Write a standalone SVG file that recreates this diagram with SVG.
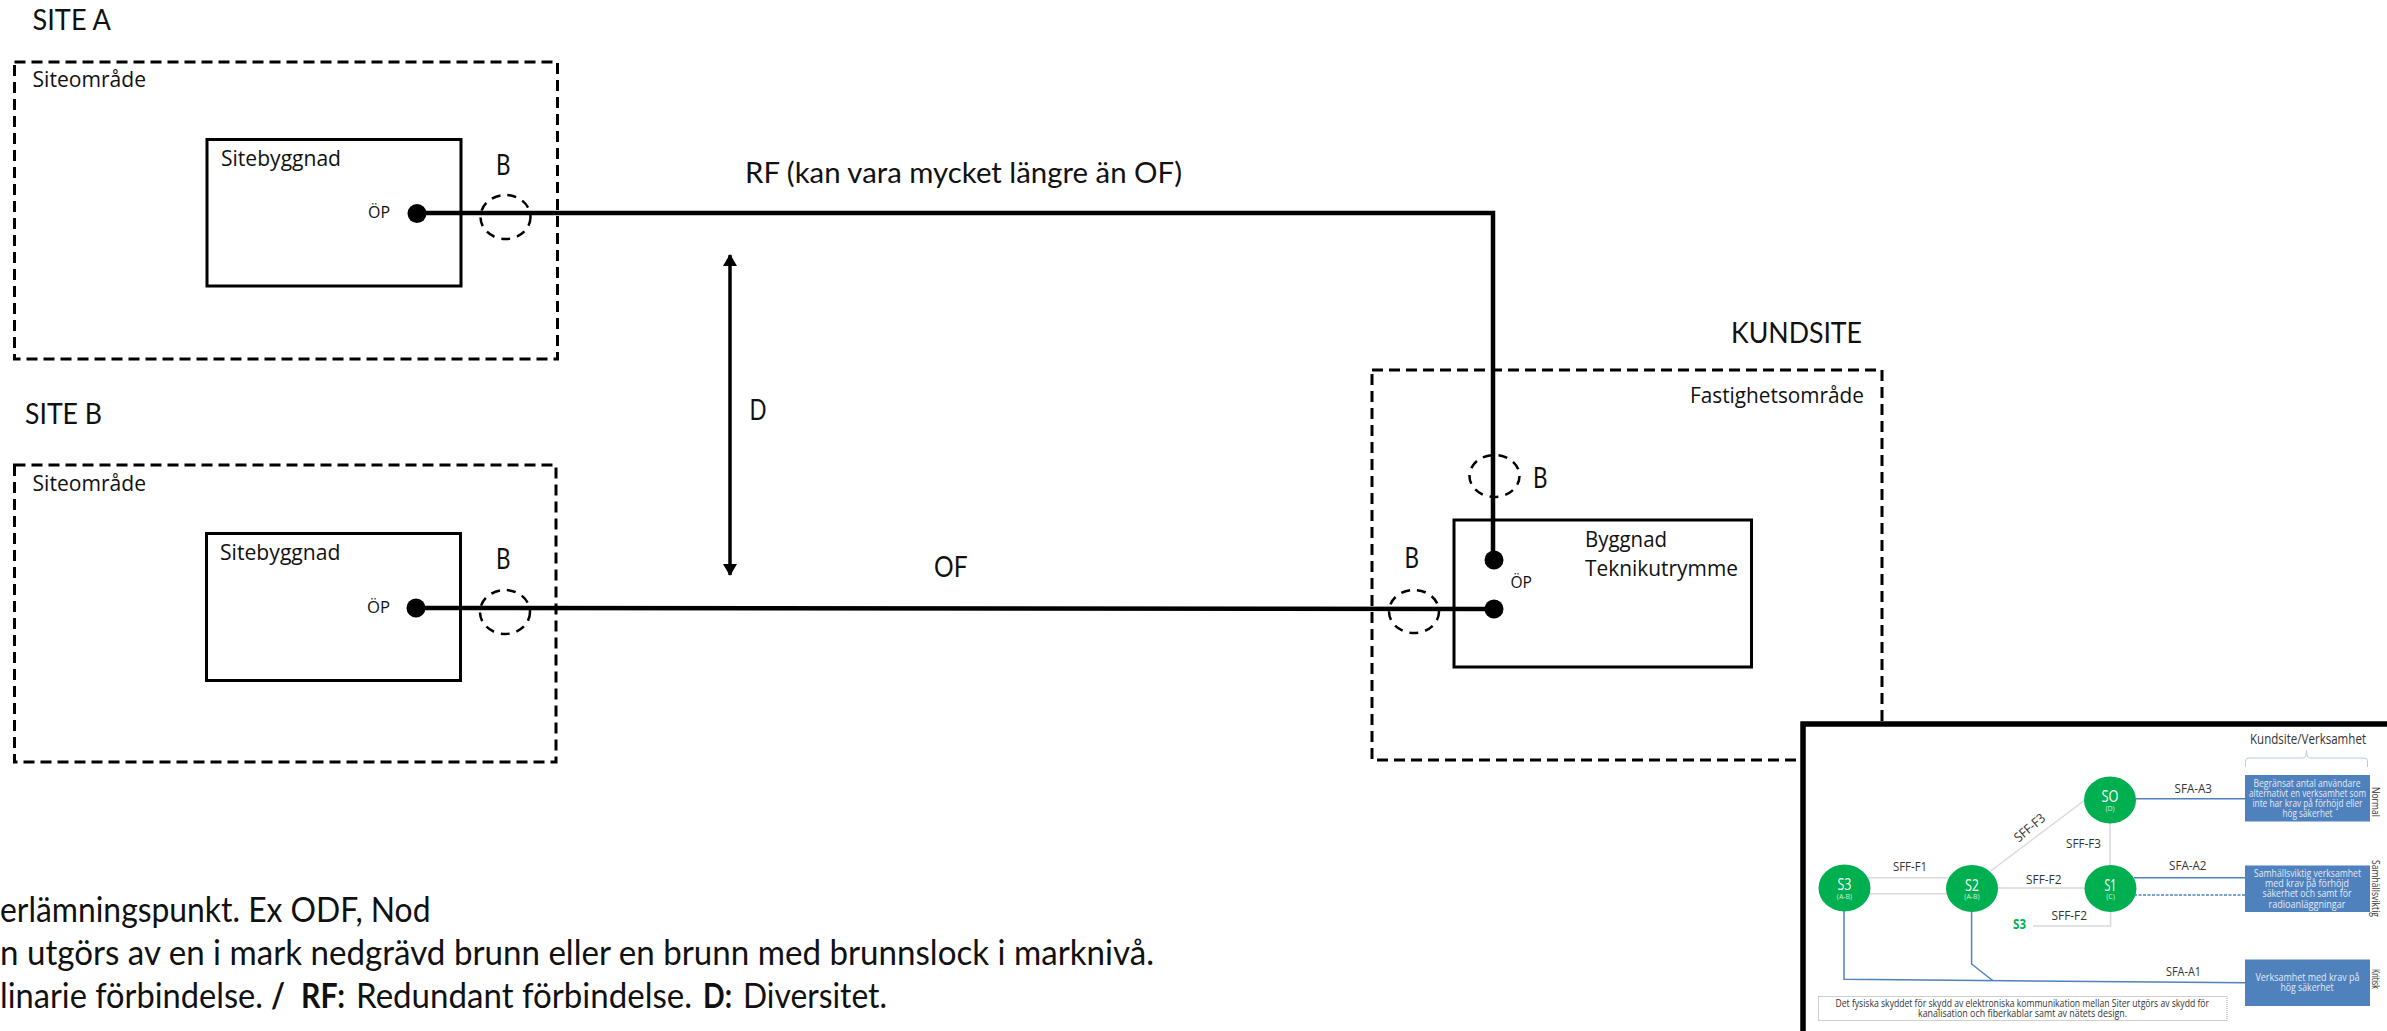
<svg xmlns="http://www.w3.org/2000/svg" width="2387" height="1031" viewBox="0 0 2387 1031">
<style>
text{font-family:"Lato","Open Sans","Liberation Sans",sans-serif;fill:#111;}
.lab{font-size:29px}
.ar{font-family:"Open Sans","Noto Sans",sans-serif;font-size:21.5px}
.op{font-family:"Open Sans","Noto Sans",sans-serif;font-size:17px}
.note{font-size:34px}
.area{fill:none;stroke:#000;stroke-width:3;stroke-dasharray:11 6}
.bld{fill:none;stroke:#000;stroke-width:3}
.well{fill:none;stroke:#000;stroke-width:2.5;stroke-dasharray:9 7}
.dot{fill:#000}
.wire{fill:none;stroke:#000;stroke-width:4.5}
.g{fill:none;stroke:#d9d9d9;stroke-width:1.5}
.b{fill:none;stroke:#4f81bd;stroke-width:1.5}
.node{fill:#00b050}
.nt{fill:#fff;font-size:16px;font-family:"Open Sans",sans-serif}
.ns{fill:#cfeedd;font-size:7px;font-family:"Open Sans",sans-serif}
.box{fill:#4f81bd}
.bt{fill:#e3ebf5;font-size:10px;font-family:"Open Sans",sans-serif}
.sl{fill:#333;font-size:13px;font-family:"Open Sans",sans-serif}
.sd{fill:#333;font-size:10px;font-family:"Open Sans",sans-serif}
</style>
<defs>
<marker id="ah" viewBox="0 0 12 14" refX="11" refY="7" markerWidth="12" markerHeight="14" markerUnits="userSpaceOnUse" orient="auto-start-reverse"><path d="M0 0L12 7L0 14Z" fill="#000"/></marker>
</defs>
<rect width="2387" height="1031" fill="#fff"/>

<g id="site-a">
<text class="lab" x="32.5" y="30" textLength="78.5" lengthAdjust="spacingAndGlyphs">SITE A</text>
<rect class="area" x="14.5" y="62" width="543" height="297"/>
<text class="ar" x="32.5" y="87" textLength="113.5" lengthAdjust="spacingAndGlyphs">Siteområde</text>
<rect class="bld" x="207" y="139.5" width="254" height="146.5"/>
<text class="ar" x="221" y="166" textLength="120" lengthAdjust="spacingAndGlyphs">Sitebyggnad</text>
<text class="op" x="368" y="218" textLength="22" lengthAdjust="spacingAndGlyphs">ÖP</text>
<ellipse class="well" cx="505.5" cy="217" rx="25" ry="22"/>
<text class="lab" x="496" y="175" textLength="14.5" lengthAdjust="spacingAndGlyphs">B</text>
</g>

<g id="site-b">
<text class="lab" x="25" y="424" textLength="77" lengthAdjust="spacingAndGlyphs">SITE B</text>
<rect class="area" x="14.5" y="465" width="541.5" height="297"/>
<text class="ar" x="32.5" y="490.5" textLength="113.5" lengthAdjust="spacingAndGlyphs">Siteområde</text>
<rect class="bld" x="206.5" y="533.5" width="254" height="147"/>
<text class="ar" x="220" y="560" textLength="120.5" lengthAdjust="spacingAndGlyphs">Sitebyggnad</text>
<text class="op" x="367" y="612.5" textLength="23" lengthAdjust="spacingAndGlyphs">ÖP</text>
<ellipse class="well" cx="505" cy="612" rx="25" ry="22"/>
<text class="lab" x="496" y="569" textLength="14.5" lengthAdjust="spacingAndGlyphs">B</text>
</g>

<g id="kundsite">
<text class="lab" x="1731" y="343" textLength="131" lengthAdjust="spacingAndGlyphs">KUNDSITE</text>
<rect class="area" x="1372" y="370" width="510" height="390"/>
<text class="ar" x="1690" y="403" textLength="174" lengthAdjust="spacingAndGlyphs">Fastighetsområde</text>
<rect class="bld" x="1454" y="520" width="297.5" height="147"/>
<text class="ar" x="1585" y="547" textLength="82" lengthAdjust="spacingAndGlyphs">Byggnad</text>
<text class="ar" x="1585" y="576" textLength="153" lengthAdjust="spacingAndGlyphs">Teknikutrymme</text>
<text class="op" x="1510.5" y="588" textLength="21.5" lengthAdjust="spacingAndGlyphs">ÖP</text>
<ellipse class="well" cx="1494.5" cy="476" rx="25" ry="21"/>
<text class="lab" x="1533" y="488" textLength="14.5" lengthAdjust="spacingAndGlyphs">B</text>
<ellipse class="well" cx="1414" cy="611.5" rx="25" ry="21.5"/>
<text class="lab" x="1404.5" y="568" textLength="14.5" lengthAdjust="spacingAndGlyphs">B</text>
</g>

<g id="connectors">
<path class="wire" d="M417 213H1493V560"/>
<path class="wire" d="M416 608L1494 609"/>
<circle class="dot" cx="417" cy="213.5" r="9.5"/>
<circle class="dot" cx="416" cy="608" r="9.5"/>
<circle class="dot" cx="1494" cy="560" r="9.5"/>
<circle class="dot" cx="1494" cy="609" r="9.5"/>
<path d="M730 255V575" fill="none" stroke="#000" stroke-width="3.5" marker-start="url(#ah)" marker-end="url(#ah)"/>
</g>

<g id="link-labels">
<text class="lab" x="745" y="182.5" textLength="437" lengthAdjust="spacingAndGlyphs">RF (kan vara mycket längre än OF)</text>
<text class="lab" x="749.5" y="420" textLength="17" lengthAdjust="spacingAndGlyphs">D</text>
<text class="lab" x="934" y="576.5" textLength="33.5" lengthAdjust="spacingAndGlyphs">OF</text>
</g>

<g id="legend">
<text class="note" x="0" y="921.5" textLength="430.5" lengthAdjust="spacingAndGlyphs">erlämningspunkt. Ex ODF, Nod</text>
<text class="note" x="0" y="965" textLength="1154" lengthAdjust="spacingAndGlyphs">n utgörs av en i mark nedgrävd brunn eller en brunn med brunnslock i marknivå.</text>
<text class="note" x="0" y="1008" textLength="263" lengthAdjust="spacingAndGlyphs">linarie förbindelse.</text>
<text class="note" x="271" y="1008" textLength="14" lengthAdjust="spacingAndGlyphs" font-weight="700">/</text>
<text class="note" x="301" y="1008" textLength="44" lengthAdjust="spacingAndGlyphs" font-weight="700">RF:</text>
<text class="note" x="356" y="1008" textLength="336" lengthAdjust="spacingAndGlyphs">Redundant förbindelse.</text>
<text class="note" x="703" y="1008" textLength="29" lengthAdjust="spacingAndGlyphs" font-weight="700">D:</text>
<text class="note" x="743" y="1008" textLength="144" lengthAdjust="spacingAndGlyphs">Diversitet.</text>
</g>

<g id="inset">
<rect x="1803" y="724" width="590" height="320" fill="#fff" stroke="#000" stroke-width="5.5"/>
<text class="sl" x="2250" y="744" style="font-size:15px" textLength="116" lengthAdjust="spacingAndGlyphs">Kundsite/Verksamhet</text>
<path d="M2245.5 767V761Q2245.5 758 2249 758H2303Q2306.5 758 2306.5 750Q2306.5 758 2310 758H2364Q2367.5 758 2367.5 761V767" fill="none" stroke="#b8cce4" stroke-width="1"/>

<g id="inset-links">
<path class="g" d="M1868 877.7H1948M1868 893.7H1948M1997 888H2085M1990.7 871L2085 800M2110 823V865M2033 926H2110.6V911"/>
<path class="b" d="M2135 798.7H2245M2134 877.7H2245M1844 911V979.3L2245 982.7M1971.6 911V964L1992.6 980.5"/>
<path class="b" d="M2134 895H2245" style="stroke-dasharray:3 1.5"/>
</g>

<g id="s0"><ellipse class="node" cx="2110" cy="800" rx="26" ry="23.5"/><text class="nt" x="2110" y="802" text-anchor="middle" textLength="17" lengthAdjust="spacingAndGlyphs">SO</text><text class="ns" x="2110" y="810.5" text-anchor="middle">(D)</text></g>
<g id="s1"><ellipse class="node" cx="2110.5" cy="888.5" rx="26" ry="23.5"/><text class="nt" x="2110.5" y="891" text-anchor="middle" textLength="12" lengthAdjust="spacingAndGlyphs">S1</text><text class="ns" x="2110.5" y="899" text-anchor="middle">(C)</text></g>
<g id="s2"><ellipse class="node" cx="1972" cy="888.5" rx="26" ry="23.5"/><text class="nt" x="1972" y="891" text-anchor="middle" textLength="14" lengthAdjust="spacingAndGlyphs">S2</text><text class="ns" x="1972" y="899" text-anchor="middle">(A-B)</text></g>
<g id="s3"><ellipse class="node" cx="1844.5" cy="888" rx="26" ry="23.5"/><text class="nt" x="1844.5" y="890" text-anchor="middle" textLength="14" lengthAdjust="spacingAndGlyphs">S3</text><text class="ns" x="1844.5" y="898.5" text-anchor="middle">(A-B)</text></g>

<text class="sl" x="1893" y="871" textLength="34" lengthAdjust="spacingAndGlyphs">SFF-F1</text>
<text class="sl" x="2026" y="884" textLength="35.5" lengthAdjust="spacingAndGlyphs">SFF-F2</text>
<text class="sl" x="2066" y="848" textLength="35" lengthAdjust="spacingAndGlyphs">SFF-F3</text>
<text class="sl" transform="rotate(-40 2030 828)" x="2012" y="832" textLength="36" lengthAdjust="spacingAndGlyphs">SFF-F3</text>
<text class="sl" x="2051.5" y="920" textLength="35.5" lengthAdjust="spacingAndGlyphs">SFF-F2</text>
<text x="2013" y="929" style="fill:#00b050;font-size:14px;font-weight:700;font-family:'Open Sans',sans-serif" textLength="13" lengthAdjust="spacingAndGlyphs">S3</text>
<text class="sl" x="2174.5" y="792.5" textLength="37.5" lengthAdjust="spacingAndGlyphs">SFA-A3</text>
<text class="sl" x="2169" y="870" textLength="37.5" lengthAdjust="spacingAndGlyphs">SFA-A2</text>
<text class="sl" x="2166" y="975.5" textLength="35" lengthAdjust="spacingAndGlyphs">SFA-A1</text>

<g id="box-normal">
<rect class="box" x="2245" y="775" width="125" height="46.5"/>
<text class="bt" x="2253.5" y="786.5" textLength="107" lengthAdjust="spacingAndGlyphs">Begränsat antal användare</text>
<text class="bt" x="2249" y="796.5" textLength="117" lengthAdjust="spacingAndGlyphs">alternativt en verksamhet som</text>
<text class="bt" x="2252.5" y="806.5" textLength="110" lengthAdjust="spacingAndGlyphs">inte har krav på förhöjd eller</text>
<text class="bt" x="2282.5" y="816.5" textLength="50" lengthAdjust="spacingAndGlyphs">hög säkerhet</text>
</g>
<g id="box-samhallsviktig">
<rect class="box" x="2245" y="865.5" width="125" height="46.5"/>
<text class="bt" x="2254" y="876.5" textLength="107" lengthAdjust="spacingAndGlyphs">Samhällsviktig verksamhet</text>
<text class="bt" x="2265" y="886.5" textLength="84" lengthAdjust="spacingAndGlyphs">med krav på förhöjd</text>
<text class="bt" x="2262.5" y="897" textLength="89" lengthAdjust="spacingAndGlyphs">säkerhet och samt för</text>
<text class="bt" x="2268.5" y="907.5" textLength="77" lengthAdjust="spacingAndGlyphs">radioanläggningar</text>
</g>
<g id="box-kritisk">
<rect class="box" x="2245" y="959.5" width="125" height="46.5"/>
<text class="bt" x="2255.5" y="981" textLength="104" lengthAdjust="spacingAndGlyphs">Verksamhet med krav på</text>
<text class="bt" x="2280.5" y="991" textLength="53" lengthAdjust="spacingAndGlyphs">hög säkerhet</text>
</g>
<text class="sd" transform="rotate(90 2372 787)" x="2372" y="787" textLength="30" lengthAdjust="spacingAndGlyphs">Normal</text>
<text class="sd" transform="rotate(90 2372 860)" x="2372" y="860" textLength="57" lengthAdjust="spacingAndGlyphs">Samhällsviktig</text>
<text class="sd" transform="rotate(90 2372 969)" x="2372" y="969" textLength="20" lengthAdjust="spacingAndGlyphs">Kritisk</text>

<g id="inset-note">
<rect x="1818.5" y="996.5" width="408.5" height="24" fill="none" stroke="#888" stroke-width="0.8" stroke-dasharray="1 1"/>
<text class="sd" x="1835.5" y="1006.5" textLength="373.5" lengthAdjust="spacingAndGlyphs">Det fysiska skyddet för skydd av elektroniska kommunikation mellan Siter utgörs av skydd för</text>
<text class="sd" x="1918" y="1016.5" textLength="209" lengthAdjust="spacingAndGlyphs">kanalisation och fiberkablar samt av nätets design.</text>
</g>
</g>
</svg>
